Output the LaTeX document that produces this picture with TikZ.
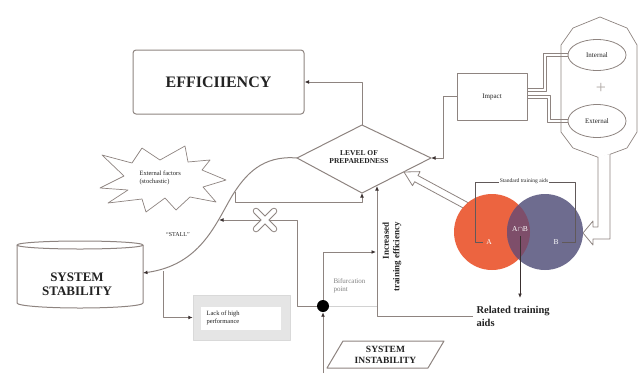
\documentclass[tikz,border=0pt]{standalone}
\usepackage{fontspec}
\setmainfont{Liberation Serif}
\usetikzlibrary{arrows.meta,shapes.geometric,shapes.misc,calc}
\definecolor{ln}{HTML}{8E8480}
\definecolor{dk}{HTML}{3A3030}
\definecolor{ored}{HTML}{EC6440}
\definecolor{bpur}{HTML}{6E6C8F}
\definecolor{mixc}{HTML}{7E4E6A}
\definecolor{tx}{HTML}{222222}
\begin{document}
\begin{tikzpicture}[x=1pt,y=-1pt,line join=round,
  conn/.style={draw=ln,line width=1pt},
  arr/.style={conn,-{Latex[length=4.5pt,width=3.8pt,color=dk]}},
  darr/.style={draw=dk,line width=0.9pt,-{Latex[length=4.5pt,width=3.8pt,color=dk]}},
  thin/.style={draw=ln,line width=0.7pt},
  small/.style={font=\fontsize{6.5}{7.5}\selectfont,text=tx}]
\useasboundingbox (0,0) rectangle (641,373);

% EFFICIENCY
\node[conn,rounded corners=3pt,minimum width=171pt,minimum height=64pt,inner sep=0,
  font=\fontsize{16}{18}\selectfont\bfseries,text=tx] (eff) at (218.5,82) {EFFICIIENCY};

% diamond
\coordinate (dT) at (362,125); \coordinate (dR) at (431,158);
\coordinate (dB) at (362,193); \coordinate (dL) at (297,158);
\draw[conn,fill=white] (dT)--(dR)--(dB)--(dL)--cycle;
\node[font=\fontsize{7.5}{8.5}\selectfont\bfseries,align=center,text=tx] (lop) at (359,157) {LEVEL OF\\PREPAREDNESS};

% Impact
\node[conn,minimum width=70pt,minimum height=47pt,text=tx,font=\fontsize{7}{8}\selectfont] (imp) at (492,96.5) {Impact};

% container polygon
\draw[conn,line width=0.7pt] (600,17)--(627,28)--(637,45)--(637,132)--(627,148)--(600,158)--(573,148)--(561,132)--(561,45)--(573,28)--cycle;
\node[ellipse,draw=ln,line width=0.8pt,minimum width=58pt,minimum height=31pt,text=tx,font=\fontsize{7}{8}\selectfont] (int) at (597,55) {Internal};
\node[ellipse,draw=ln,line width=0.8pt,minimum width=58pt,minimum height=33pt,text=tx,font=\fontsize{7}{8}\selectfont] (ext) at (597,121) {External};
\node[font=\fontsize{18}{18}\selectfont,text=ln!70] (plus) at (601,88) {+};

% paired lines Impact -> Internal / External
\draw[thin] ([yshift=7.7pt]imp.east) -- (543.8,88.8) -- (543.8,53.8) -- ([yshift=1.2pt]int.west);
\draw[thin] ([yshift=5.3pt]imp.east) -- (546.2,91.2) -- (546.2,56.2) -- ([yshift=-1.2pt]int.west);
\draw[thin] ([yshift=0.7pt]imp.east) -- (550.2,95.8) -- (550.2,119.8) -- ([yshift=1.2pt]ext.west);
\draw[thin] ([yshift=-1.7pt]imp.east) -- (547.8,98.2) -- (547.8,122.2) -- ([yshift=-1.2pt]ext.west);

% hollow arrow from container to B
\draw[conn,line width=0.8pt,fill=white] (598,157)--(598,227)--(593,227)--(593,221)--(583,233)--(593,245)--(593,239)--(610,239)--(610,154);

% hollow arrow to diamond
\begin{scope}[shift={(404,172)},rotate=-28.4]
\draw[conn,line width=0.8pt,fill=white] (0,0)--(14,8)--(14,3.5)--(74,3.5)--(74,-3.5)--(14,-3.5)--(14,-8)--cycle;
\end{scope}

% Venn
\node[circle,fill=ored,minimum size=76pt,inner sep=0] (cA) at (492,232) {};
\node[circle,fill=bpur,minimum size=76pt,inner sep=0] (cB) at (545,232) {};
\begin{scope}
\clip (492,232) circle[radius=38];
\fill[mixc] (545,232) circle[radius=38];
\end{scope}
\node[text=white,font=\fontsize{7.5}{8}\selectfont] (lA) at (489,242) {A};
\node[text=white,font=\fontsize{7.5}{8}\selectfont] (lAB) at (520,229) {A$\cap$B};
\node[text=white,font=\fontsize{7.5}{8}\selectfont] (lB) at (556,242) {B};
\draw[draw=dk!80,line width=0.8pt] (lA.west) -| (475,182) -- (575,182) |- (lB.east);
\node[fill=white,inner sep=1pt,font=\fontsize{5.5}{6}\selectfont,text=tx] (sta) at (524,181) {Standard training aids};
\draw[darr] ([yshift=-1pt]lAB.south) -- (520,298);

% Related training aids
\node[anchor=west,align=left,font=\fontsize{10.5}{13}\selectfont\bfseries,text=tx] (rta) at (473,316) {Related training\\aids};
\draw[arr] (rta.west) -| (377,186);
\node[rotate=90,align=right,font=\fontsize{9}{10.5}\selectfont\bfseries,text=tx] (ite) at (392,257) {Increased\\training efficiency};

% Efficiency and Impact connectors
\draw[arr] (dT) |- (eff.east);
\coordinate (ij) at (443,96.5);
\draw[arr] (imp.west) -- (ij) |- (dR);

% System stability cylinder
\draw[conn,fill=white] (17,245) -- (17,303) arc[start angle=180,end angle=0,x radius=63,y radius=5] -- (143,245);
\draw[conn,fill=white] (80,245) ellipse[x radius=63,y radius=4];
\node[font=\fontsize{13}{14}\selectfont\bfseries,align=center,text=tx] (ss) at (77,284) {SYSTEM\\STABILITY};
\coordinate (ssR) at (143,273);

% S curve
\draw[arr] (dL) .. controls (262,155) and (245,175) .. (232,196) .. controls (215,225) and (200,265) .. (ssR);
\coordinate (cj1) at (163,271);
\coordinate (cj2) at (235,192);
\coordinate (cj3) at (219,220);
\draw[arr] (cj2) |- (362,202) -- (dB);

% starburst
\draw[conn,line width=0.7pt,fill=white] (102,155)--(132,163)--(142,148)--(160,160)--(185,146)--(188,162)--(210,160)--(202,170)--(226,180)--(203,187)--(216,202)--(190,197)--(176,210)--(165,198)--(146,212)--(142,199)--(108,203)--(128,190)--(100,188)--(124,176)--cycle;
\node[anchor=west,align=left,small] (ef) at (136,178) {External factors\\(stochastic)};
\node[small,font=\fontsize{6}{7}\selectfont] (stall) at (178,235) {“STALL”};

% Lack of high performance
\node[chamfered rectangle,chamfered rectangle xsep=7pt,chamfered rectangle ysep=7pt,fill=gray!20,draw=gray!30,minimum width=97pt,minimum height=45pt,inner sep=0] (lack) at (241.5,317.5) {};
\fill[white] (201,307) rectangle (281,330);
\node[anchor=west,align=left,small] (lackt) at (203,318) {Lack of high\\performance};
\draw[arr] (cj1) |- (lack.west);

% bifurcation
\node[circle,fill=black,minimum size=12pt,inner sep=0] (bif) at (323,306) {};
\node[anchor=west,align=left,font=\fontsize{7}{8}\selectfont,text=gray] (bpt) at (330,286) {Bifurcation\\point};
\coordinate (vj) at (376,252);
\draw[arr] (bif.north) |- (vj);
\draw[draw=gray!35,line width=1pt] (bif.east) -- (377,306);
\draw[arr] (bif.west) -- (297,306) -- (297,220) -- (cj3);

% X mark
\coordinate (xm) at (265,220);
\draw[draw=ln,line width=6.5pt,line cap=round] ($(xm)+(-9,-9)$) -- ($(xm)+(9,9)$) ($(xm)+(-9,9)$) -- ($(xm)+(9,-9)$);
\draw[draw=white,line width=4.5pt,line cap=round] ($(xm)+(-9,-9)$) -- ($(xm)+(9,9)$) ($(xm)+(-9,9)$) -- ($(xm)+(9,-9)$);

% System instability
\draw[conn,fill=white] (343,341)--(444,341)--(428,368)--(327,368)--cycle;
\node[font=\fontsize{9.5}{10.5}\selectfont\bfseries,align=center,text=tx] (sins) at (385.5,355) {SYSTEM\\INSTABILITY};
\coordinate (sinb) at (323,373);
\draw[arr] (sinb) -- (bif.south);
\end{tikzpicture}
\end{document}
